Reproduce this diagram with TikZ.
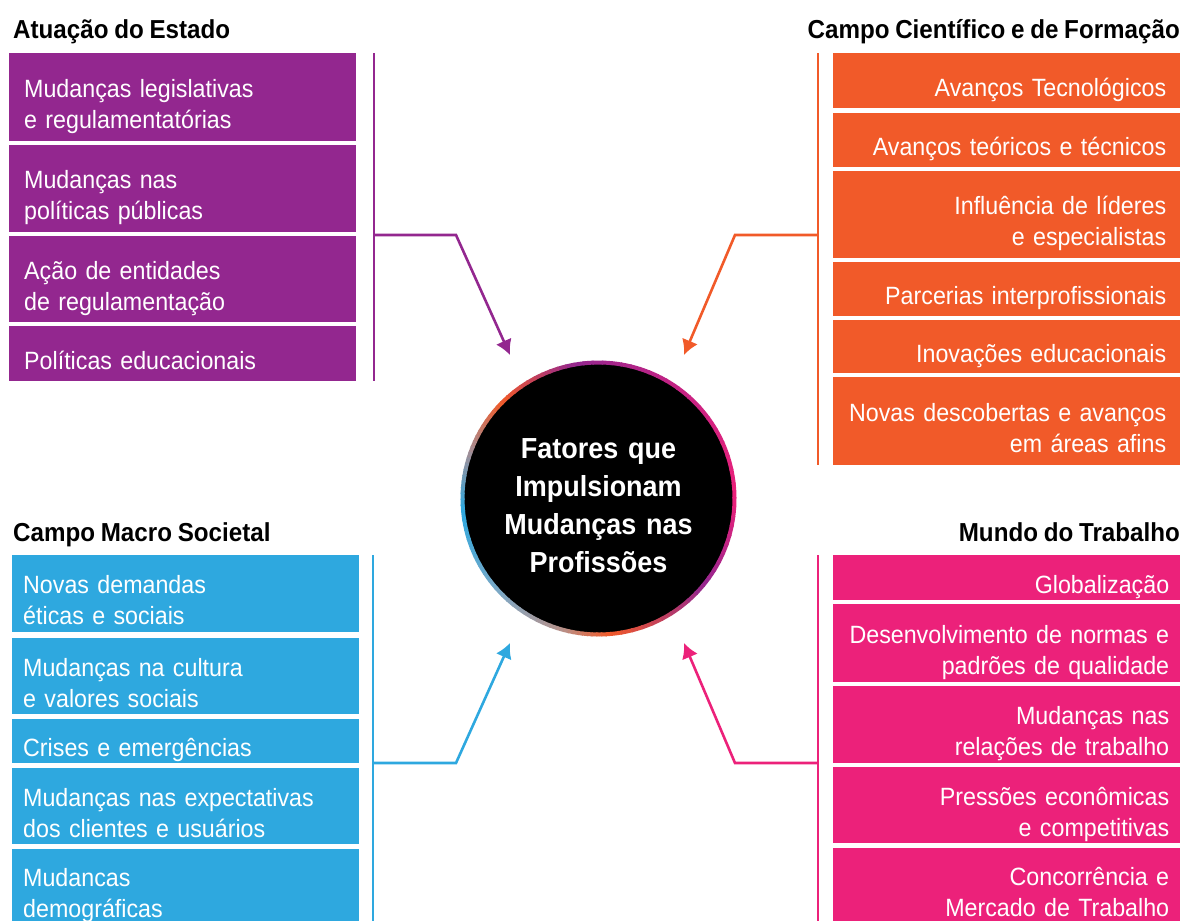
\documentclass[tikz,border=0pt]{standalone}
\usepackage{fontspec}
\setmainfont{Liberation Sans}[FakeStretch=0.93,WordSpace=0.85]
\usetikzlibrary{arrows.meta}
\definecolor{cpurp}{HTML}{93278F}
\definecolor{corange}{HTML}{F15A29}
\definecolor{cblue}{HTML}{2EA8DF}
\definecolor{cpink}{HTML}{EC217A}
\definecolor{cmag}{HTML}{C02384}
\definecolor{cgray}{HTML}{A38E95}
\definecolor{cbgray}{HTML}{7FA8C4}
\definecolor{cgraytwo}{HTML}{B89088}
\tikzset{
  catbox/.style={anchor=north west, minimum width=347pt, inner sep=0pt, inner xsep=15pt,
     text width=317pt, text=white, font=\fontsize{25}{31}\selectfont,
     execute at begin node={\rule{0pt}{37pt}},
     execute at end node={\rule[-6pt]{0pt}{6pt}}},
  lbox/.style={catbox, align=left},
  bbox/.style={lbox, inner xsep=11pt, text width=325pt},
  rbox/.style={catbox, align=right, inner xsep=14pt, text width=319pt},
  pbox/.style={catbox, align=right, inner xsep=11pt, text width=325pt},
  ttl/.style={font=\bfseries\fontsize{26}{30}\selectfont, inner sep=0pt},
  bracket/.style={line width=2.6pt},
  conn/.style={line width=2.6pt, -{Latex[length=15pt,width=17pt]}},
}
\begin{document}
\begin{tikzpicture}[x=1pt,y=-1pt]
\useasboundingbox (0,0) rectangle (1184,921);
% titles
\node[ttl, anchor=base west] (t1) at (13,38) {Atuação do Estado};
\node[ttl, anchor=base east] (t2) at (1180,38) {Campo Científico e de Formação};
\node[ttl, anchor=base west] (t3) at (13,541) {Campo Macro Societal};
\node[ttl, anchor=base east] (t4) at (1180,541) {Mundo do Trabalho};
% left purple
\node[lbox, fill=cpurp, minimum height=88pt] (a1) at (9,53) {Mudanças legislativas\\e regulamentatórias};
\node[lbox, fill=cpurp, minimum height=87pt] (a2) at (9,145) {Mudanças nas\\políticas públicas};
\node[lbox, fill=cpurp, minimum height=86pt] (a3) at (9,236) {Ação de entidades\\de regulamentação};
\node[lbox, fill=cpurp, minimum height=55pt] (a4) at (9,326) {Políticas educacionais};
% right orange
\node[rbox, fill=corange, minimum height=55pt] (b1) at (833,53) {Avanços Tecnológicos};
\node[rbox, fill=corange, minimum height=54pt] (b2) at (833,113) {Avanços teóricos e técnicos};
\node[rbox, fill=corange, minimum height=87pt] (b3) at (833,171) {Influência de líderes\\e especialistas};
\node[rbox, fill=corange, minimum height=54pt] (b4) at (833,262) {Parcerias interprofissionais};
\node[rbox, fill=corange, minimum height=53pt] (b5) at (833,320) {Inovações educacionais};
\node[rbox, fill=corange, minimum height=88pt] (b6) at (833,377) {Novas descobertas e avanços\\em áreas afins};
% left blue
\node[bbox, fill=cblue, minimum height=77pt] (c1) at (12,555) {Novas demandas\\éticas e sociais};
\node[bbox, fill=cblue, minimum height=76pt] (c2) at (12,638) {Mudanças na cultura\\e valores sociais};
\node[bbox, fill=cblue, minimum height=44pt] (c3) at (12,719) {Crises e emergências};
\node[bbox, fill=cblue, minimum height=76pt] (c4) at (12,768) {Mudanças nas expectativas\\dos clientes e usuários};
\node[bbox, fill=cblue, minimum height=72pt] (c5) at (12,849) {Mudancas\\demográficas};
% right pink
\node[pbox, fill=cpink, minimum height=45pt] (d1) at (833,555) {Globalização};
\node[pbox, fill=cpink, minimum height=78pt] (d2) at (833,604) {Desenvolvimento de normas e\\padrões de qualidade};
\node[pbox, fill=cpink, minimum height=77pt] (d3) at (833,686) {Mudanças nas\\relações de trabalho};
\node[pbox, fill=cpink, minimum height=76pt] (d4) at (833,767) {Pressões econômicas\\e competitivas};
\node[pbox, fill=cpink, minimum height=73pt] (d5) at (833,848) {Concorrência e\\Mercado de Trabalho};
% centre circle
\node[circle, fill=black, minimum size=272pt, inner sep=0pt, text=white, align=center,
      text width=200pt, font=\bfseries\fontsize{29}{38}\selectfont,
      execute at begin node={\rule{0pt}{44pt}},
      execute at end node={\rule[-10pt]{0pt}{10pt}}] (ctr) at (598.5,498.5)
      {Fatores que\\Impulsionam\\Mudanças nas\\Profissões};
\foreach \a/\b/\ca/\cb in {0/60/cpink/cmag, 60/100/cmag/cpurp, 100/135/cpurp/corange,
    135/160/corange/cgray, 160/185/cgray/cblue, 185/225/cblue/cbgray,
    225/255/cbgray/cgraytwo, 255/275/cgraytwo/corange, 275/320/corange/cpurp, 320/360/cpurp/cpink} {
  \foreach \t in {0,...,9} {
    \pgfmathsetmacro\s{\a+(\b-\a)*\t/10}
    \pgfmathsetmacro\e{\a+(\b-\a)*(\t+1)/10+0.6}
    \pgfmathsetmacro\p{95-10*\t}
    \draw[line width=4pt, \ca!\p!\cb] ([shift={(\s:136pt)}]ctr.center) arc[start angle=\s, end angle=\e, radius=136pt];
  }
}
% brackets and connectors
\coordinate (aTop) at (374,53); \coordinate (aBot) at (374,381);
\coordinate (aJ) at (374,235); \coordinate (aK) at (456,235); \coordinate (aT) at (510,355);
\draw[bracket, cpurp] (aTop) -- (aBot);
\draw[conn, cpurp] (aJ) -- (aK) -- (aT);
\coordinate (bTop) at (818,53); \coordinate (bBot) at (818,465);
\coordinate (bJ) at (818,235); \coordinate (bK) at (735,235); \coordinate (bT) at (684,355);
\draw[bracket, corange] (bTop) -- (bBot);
\draw[conn, corange] (bJ) -- (bK) -- (bT);
\coordinate (cTop) at (373,555); \coordinate (cBot) at (373,921);
\coordinate (cJ) at (373,763); \coordinate (cK) at (456,763); \coordinate (cT) at (510,643);
\draw[bracket, cblue] (cTop) -- (cBot);
\draw[conn, cblue] (cJ) -- (cK) -- (cT);
\coordinate (dTop) at (818,555); \coordinate (dBot) at (818,921);
\coordinate (dJ) at (818,763); \coordinate (dK) at (735,763); \coordinate (dT) at (684,643);
\draw[bracket, cpink] (dTop) -- (dBot);
\draw[conn, cpink] (dJ) -- (dK) -- (dT);
\end{tikzpicture}
\end{document}
